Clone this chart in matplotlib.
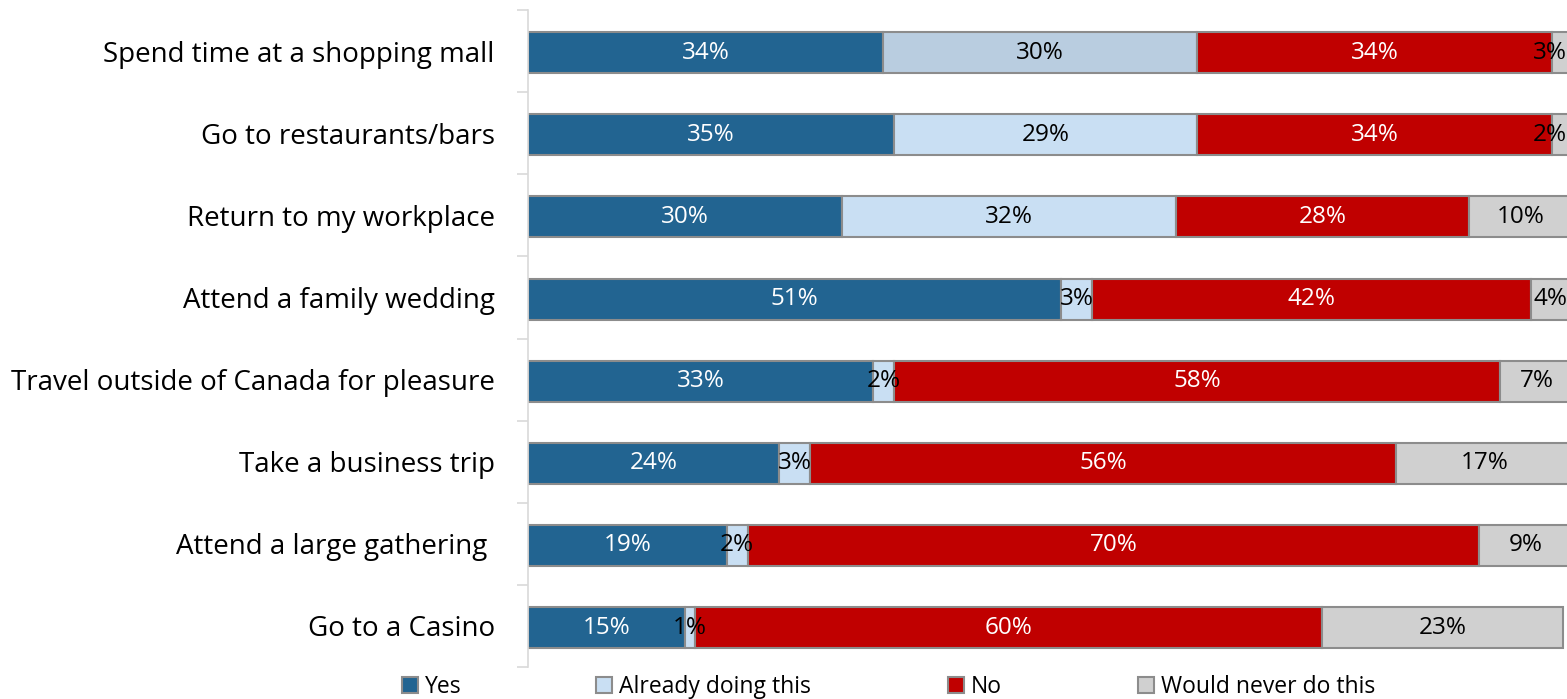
import numpy as np
import matplotlib.pyplot as plt
from matplotlib.patches import Patch

plt.rcParams['font.family'] = ['Open Sans', 'DejaVu Sans']

activities = [
    'Spend time at a shopping mall',
    'Go to restaurants/bars',
    'Return to my workplace',
    'Attend a family wedding',
    'Travel outside of Canada for pleasure',
    'Take a business trip',
    'Attend a large gathering ',
    'Go to a Casino',
]
yes = [34, 35, 30, 51, 33, 24, 19, 15]
already = [30, 29, 32, 3, 2, 3, 2, 1]
no = [34, 34, 28, 42, 58, 56, 70, 60]
never = [3, 2, 10, 4, 7, 17, 9, 23]

series_names = ['Yes', 'Already doing this', 'No', 'Would never do this']
series_colors = ['#226491', '#C9DFF3', '#C00000', '#D0D0D0']
text_colors = ['white', 'black', 'white', 'black']
edge = '#8C8C8C'

XMAX = 99.4

fig = plt.figure(figsize=(15.67, 6.99), dpi=100)
ax = fig.add_axes([528 / 1567, 32 / 699, 1 - 528 / 1567, 657 / 699])

y = np.arange(len(activities))
left = np.zeros(len(activities))
for k, vals in enumerate([yes, already, no, never]):
    vals = np.array(vals, dtype=float)
    cols = [series_colors[k]] * len(vals)
    if k == 1:
        cols[0] = '#B9CDE0'  # first row drawn in a greyer tint
    ax.barh(y + 0.02, vals, left=left, height=0.5, color=cols,
            edgecolor=edge, linewidth=1.5)
    for i, v in enumerate(vals):
        # keep labels of segments running past the edge inside the plot
        xc = min(left[i] + v / 2, XMAX - 1.6)
        ax.text(xc, y[i] + 0.02, f'{int(v)}%', ha='center', va='center',
                fontsize=17.5, color=text_colors[k], clip_on=False)
    left += vals

ax.set_xlim(0, XMAX)
ax.set_ylim(len(activities) - 0.5, -0.5)
ax.set_xticks([])
ax.set_yticks(y)
ax.set_yticklabels(activities, fontsize=20)
ax.tick_params(axis='y', which='major', length=0, pad=24)
ax.set_yticks(np.arange(-0.5, len(activities)), minor=True)
ax.tick_params(axis='y', which='minor', length=8, color='#D9D9D9', width=1.2)
for s in ['top', 'right', 'bottom']:
    ax.spines[s].set_visible(False)
ax.spines['left'].set_color('#D9D9D9')
ax.spines['left'].set_linewidth(1.2)

# legend entries spaced along the bottom
legend_x = [402, 596, 948, 1138]
for name, col, lx in zip(series_names, series_colors, legend_x):
    h = Patch(facecolor=col, edgecolor=edge, linewidth=1.5)
    fig.legend([h], [name], loc='center left', bbox_to_anchor=(lx / 1567, 12 / 699),
               frameon=False, fontsize=16.5, handlelength=0.7, handleheight=0.7,
               handletextpad=0.3, borderpad=0, borderaxespad=0)

fig.savefig('out.png', dpi=100)
